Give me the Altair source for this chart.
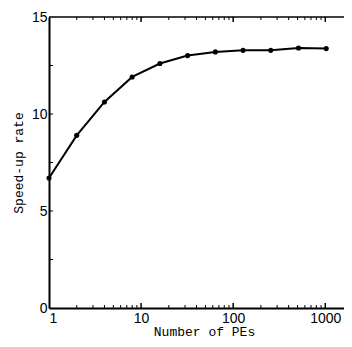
import altair as alt
import pandas as pd

# data
pes = [1, 2, 4, 8, 16, 32, 64, 128, 256, 512, 1024]
speedup = [6.70, 8.90, 10.62, 11.91, 12.60, 13.01, 13.20, 13.28, 13.28, 13.40, 13.37]

x_labels = [1, 10, 100, 1000]
y_labels = [0, 5, 10, 15]
y_ticks = [2.5, 5, 7.5, 10, 12.5]
x_minor = [2, 3, 4, 5, 6, 7, 8, 9, 20, 30, 40, 50, 60, 70, 80, 90,
           200, 300, 400, 500, 600, 700, 800, 900]
x_major = [10, 100, 1000]

W_VIEW, W_FULL, H = 295, 304, 291

df = pd.DataFrame({"pes": pes, "speedup": speedup})
xs = alt.Scale(type="log", domain=[1, 2000], nice=False, range=[0, W_FULL])
ys = alt.Scale(domain=[0, 15], nice=False)

xaxis = alt.Axis(values=x_labels, format="d", title="Number of PEs", ticks=False, tickSize=0,
                 labelPadding=3, grid=False, titleX=155, titleY=27, titleBaseline="alphabetic")
yaxis = alt.Axis(values=y_labels, title="Speed-up rate", ticks=False, tickSize=0,
                 labelPadding=2, grid=False, titleX=-24, titleY=H / 2, titleAngle=270,
                 titleBaseline="bottom", titleAlign="center")

line = alt.Chart(df).mark_line(color="black", strokeWidth=2).encode(
    x=alt.X("pes:Q", scale=xs, axis=xaxis),
    y=alt.Y("speedup:Q", scale=ys, axis=yaxis),
)
pts = alt.Chart(df).mark_point(filled=True, color="black", size=26, opacity=1).encode(
    x=alt.X("pes:Q", scale=xs, axis=xaxis),
    y=alt.Y("speedup:Q", scale=ys, axis=yaxis),
)

ydf = pd.DataFrame({"v": y_ticks})
left_t = alt.Chart(ydf).mark_rule(color="black", strokeWidth=1).encode(
    y=alt.Y("v:Q", scale=ys, axis=yaxis), x=alt.value(0), x2=alt.value(4))

mindf = pd.DataFrame({"v": x_minor})
majdf = pd.DataFrame({"v": x_major})
bot_min = alt.Chart(mindf).mark_rule(color="black", strokeWidth=1).encode(
    x=alt.X("v:Q", scale=xs, axis=xaxis), y=alt.value(H), y2=alt.value(H - 3))
top_min = alt.Chart(mindf).mark_rule(color="black", strokeWidth=1).encode(
    x=alt.X("v:Q", scale=xs, axis=xaxis), y=alt.value(0), y2=alt.value(3))
bot_maj = alt.Chart(majdf).mark_rule(color="black", strokeWidth=1.5).encode(
    x=alt.X("v:Q", scale=xs, axis=xaxis), y=alt.value(H), y2=alt.value(H - 5))
top_maj = alt.Chart(majdf).mark_rule(color="black", strokeWidth=1.5).encode(
    x=alt.X("v:Q", scale=xs, axis=xaxis), y=alt.value(0), y2=alt.value(5))

frame_top = alt.Chart(pd.DataFrame({"a": [0]})).mark_rule(color="black", strokeWidth=1.5).encode(
    y=alt.value(0), x=alt.value(0), x2=alt.value(W_FULL))

chart = alt.layer(line, pts, left_t, bot_min, top_min, bot_maj, top_maj, frame_top).properties(
    width=W_VIEW, height=H,
    autosize=alt.AutoSizeParams(type="none"),
    padding={"left": 41, "top": 9, "right": 0, "bottom": 31},
).configure_view(
    strokeWidth=0
).configure_axis(
    domainColor="black", domainWidth=2,
    labelFont="Liberation Sans", labelFontSize=14, labelColor="black",
    titleFont="Liberation Mono", titleFontSize=13, titleFontWeight="normal", titleColor="black",
)

chart.save("out.html", embed_options={"renderer": "svg", "actions": False})
